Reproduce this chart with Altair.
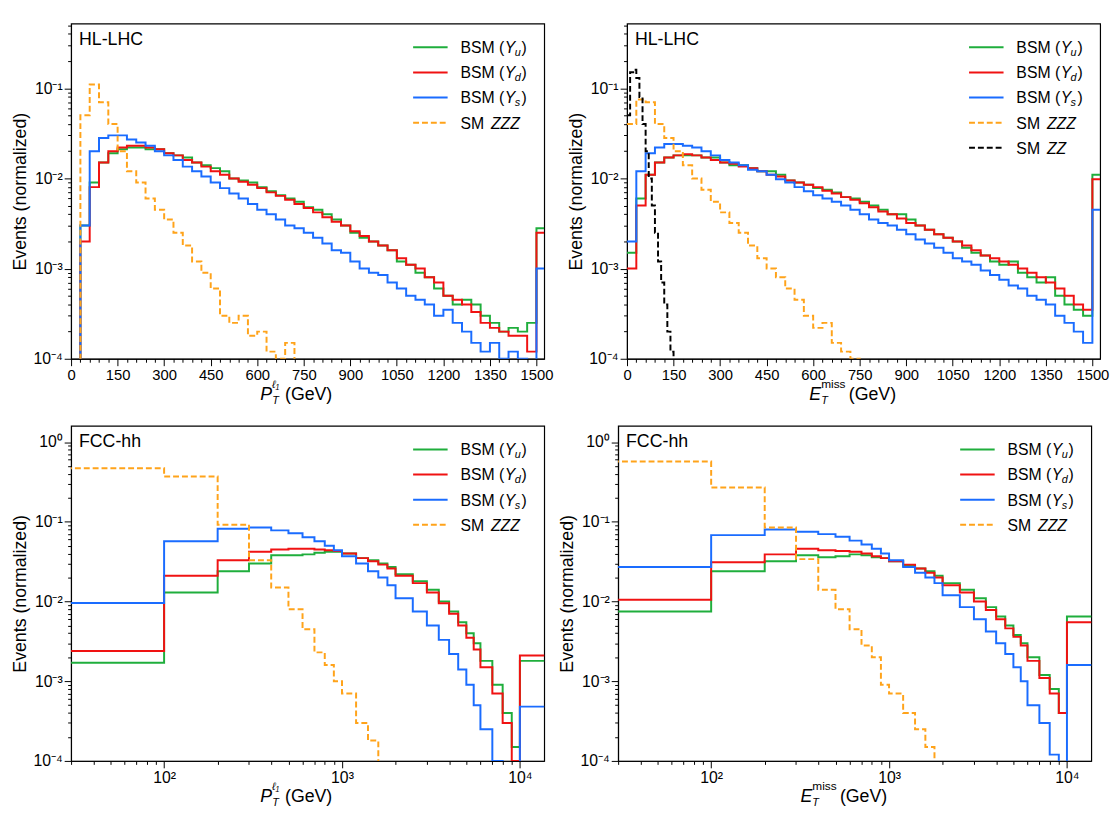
import altair as alt
import numpy as np
import pandas as pd

FONT = "Liberation Sans"
W, H = 480, 340
GREEN, RED, BLUE, ORANGE, BLACK = "#1fae3c", "#f01212", "#1a6cff", "#ffa31a", "#000000"

# ---------------- HL-LHC: 30 GeV bins 0..1500, then overflow bin ----------------
hl_edges = list(range(0, 1501, 30)) + [1525]

lep_green = [5e-5, 0.003, 0.009, 0.015, 0.019, 0.021, 0.022, 0.022, 0.021, 0.021,
             0.019, 0.018, 0.017, 0.015, 0.014, 0.013, 0.012, 0.010, 0.0095, 0.009,
             0.008, 0.0072, 0.0065, 0.006, 0.0055, 0.0048, 0.0045, 0.004, 0.0035, 0.003,
             0.0025, 0.0022, 0.002, 0.0018, 0.0016, 0.0012, 0.0011, 0.0009, 0.0008, 0.0006,
             0.0005, 0.0004, 0.00045, 0.0004, 0.0003, 0.00025, 0.0002, 0.00022, 0.0002, 0.00025,
             0.0028]
lep_red = [5e-5, 0.002, 0.008, 0.015, 0.020, 0.022, 0.023, 0.023, 0.022, 0.021,
           0.019, 0.018, 0.016, 0.015, 0.0135, 0.012, 0.011, 0.010, 0.0092, 0.0085,
           0.0078, 0.007, 0.0064, 0.0058, 0.0052, 0.0047, 0.0042, 0.0037, 0.0033, 0.003,
           0.0026, 0.0023, 0.002, 0.0018, 0.0016, 0.0013, 0.0011, 0.001, 0.0008, 0.0007,
           0.0005, 0.00045, 0.0004, 0.00033, 0.00025, 0.00022, 0.0002, 0.00018, 0.00018, 0.00012,
           0.0025]
lep_blue = [5e-5, 0.003, 0.020, 0.028, 0.030, 0.030, 0.027, 0.025, 0.023, 0.020,
            0.018, 0.016, 0.0135, 0.012, 0.0105, 0.009, 0.0078, 0.0068, 0.006, 0.0052,
            0.0045, 0.004, 0.0035, 0.003, 0.0028, 0.0025, 0.0022, 0.0019, 0.0016, 0.0015,
            0.0012, 0.001, 0.0009, 0.00085, 0.0007, 0.0006, 0.0005, 0.00045, 0.0004, 0.0003,
            0.00035, 0.00025, 0.0002, 0.00015, 0.00012, 0.00015, 0.0001, 0.00012, 0.0001, 5e-5,
            0.001]
lep_zzz = [5e-5, 0.05, 0.11, 0.07, 0.04, 0.02, 0.012, 0.009, 0.006, 0.0045,
           0.0035, 0.0025, 0.0018, 0.0012, 0.0009, 0.0006, 0.0003, 0.00025, 0.0003, 0.00018,
           0.0002, 0.00012, 0.0001, 0.00015, 5e-5]

met_green = [0.0015, 0.006, 0.011, 0.015, 0.017, 0.018, 0.018, 0.018, 0.017, 0.017,
             0.015, 0.014, 0.014, 0.013, 0.012, 0.012, 0.011, 0.0095, 0.009, 0.0085,
             0.0078, 0.0075, 0.007, 0.0062, 0.006, 0.0055, 0.005, 0.0045, 0.004, 0.004,
             0.0035, 0.003, 0.0027, 0.0024, 0.0022, 0.002, 0.0017, 0.0015, 0.0014, 0.0012,
             0.0011, 0.0012, 0.0009, 0.0008, 0.0007, 0.0008, 0.0005, 0.0004, 0.00035, 0.0003,
             0.011]
met_red = [0.001, 0.005, 0.011, 0.015, 0.017, 0.018, 0.0185, 0.018, 0.017, 0.016,
           0.015, 0.0145, 0.0135, 0.013, 0.012, 0.011, 0.0105, 0.0095, 0.009, 0.0085,
           0.008, 0.0073, 0.0068, 0.0062, 0.0058, 0.0053, 0.0048, 0.0043, 0.004, 0.0036,
           0.0032, 0.003, 0.0027, 0.0024, 0.0022, 0.002, 0.0018, 0.0016, 0.0014, 0.0013,
           0.0012, 0.0011, 0.001, 0.0009, 0.0008, 0.0007, 0.0006, 0.0005, 0.0004, 0.00035,
           0.0098]
met_blue = [0.002, 0.012, 0.019, 0.022, 0.024, 0.024, 0.023, 0.022, 0.020, 0.018,
            0.016, 0.015, 0.014, 0.0125, 0.012, 0.011, 0.0098, 0.009, 0.008, 0.0072,
            0.0065, 0.006, 0.0055, 0.005, 0.0045, 0.004, 0.0035, 0.0032, 0.003, 0.0027,
            0.0024, 0.0021, 0.0019, 0.0017, 0.0015, 0.0013, 0.0012, 0.0011, 0.00095, 0.00085,
            0.00075, 0.00065, 0.0006, 0.0005, 0.00045, 0.0004, 0.0003, 0.00025, 0.0002, 0.00015,
            0.0045]
met_zzz = [0.04, 0.075, 0.07, 0.04, 0.028, 0.02, 0.014, 0.01, 0.0075, 0.0055,
           0.0042, 0.0032, 0.0025, 0.0018, 0.0013, 0.001, 0.0008, 0.0006, 0.00045, 0.0003,
           0.00022, 0.00025, 0.00015, 0.00012, 0.0001, 5e-5]
zz_edges = list(range(0, 161, 10))
met_zz = [0.05, 0.15, 0.16, 0.13, 0.08, 0.04, 0.02, 0.01, 0.005, 0.0025,
          0.0012, 0.0007, 0.0004, 0.0002, 0.00012, 5e-5]

# ---------------- FCC-hh: variable bins, then overflow ----------------
fcc_edges = ([10] + list(range(100, 1001, 100)) + list(range(1200, 2001, 200))
             + list(range(2500, 6001, 500)) + [7000, 8000, 9000, 10000, 20000])

fpt_green = [0.0017, 0.013, 0.024, 0.030, 0.038, 0.038, 0.039, 0.041, 0.042, 0.042,
             0.040, 0.035, 0.033, 0.030, 0.027,
             0.022, 0.018, 0.014, 0.010, 0.0075, 0.0055, 0.004, 0.003,
             0.0018, 0.0009, 0.0004, 0.00015, 0.0018]
fpt_red = [0.0024, 0.021, 0.033, 0.042, 0.045, 0.046, 0.046, 0.045, 0.044, 0.043,
           0.040, 0.035, 0.032, 0.029, 0.026,
           0.021, 0.017, 0.013, 0.0095, 0.007, 0.005, 0.0035, 0.0025,
           0.0015, 0.0007, 0.0003, 0.0001, 0.0021]
fpt_blue = [0.0096, 0.057, 0.082, 0.085, 0.078, 0.072, 0.064, 0.057, 0.050, 0.044,
            0.037, 0.030, 0.024, 0.020, 0.016,
            0.011, 0.0075, 0.005, 0.0033, 0.0022, 0.0014, 0.0009, 0.0005,
            0.00025, 0.0001, 5e-5, 5e-5, 0.00048]
fpt_zzz = [0.47, 0.37, 0.092, 0.033, 0.015, 0.008, 0.0045, 0.0023, 0.0016, 0.001,
           0.0007, 0.0003, 0.00018, 5e-5]

fmet_green = [0.0075, 0.024, 0.032, 0.038, 0.036, 0.037, 0.039, 0.038, 0.036, 0.035,
              0.032, 0.028, 0.026, 0.024, 0.021,
              0.017, 0.014, 0.011, 0.0085, 0.0065, 0.005, 0.0038, 0.003,
              0.002, 0.0012, 0.0008, 0.0004, 0.0065]
fmet_red = [0.0105, 0.031, 0.039, 0.046, 0.044, 0.043, 0.042, 0.040, 0.037, 0.035,
            0.032, 0.029, 0.026, 0.023, 0.020,
            0.016, 0.013, 0.010, 0.0078, 0.006, 0.0046, 0.0036, 0.0028,
            0.0018, 0.0011, 0.0007, 0.0004, 0.0055]
fmet_blue = [0.027, 0.068, 0.080, 0.075, 0.070, 0.065, 0.058, 0.052, 0.046, 0.040,
             0.033, 0.027, 0.023, 0.020, 0.017,
             0.012, 0.0085, 0.006, 0.0042, 0.003, 0.0022, 0.0015, 0.001,
             0.0005, 0.0003, 0.00012, 8e-5, 0.0016]
fmet_zzz = [0.57, 0.27, 0.085, 0.034, 0.014, 0.008, 0.0045, 0.0028, 0.002, 0.0009,
            0.0007, 0.0004, 0.00025, 0.00015, 5e-5]


def steps(edges, vals):
    return pd.DataFrame({"x": edges[: len(vals) + 1], "y": list(vals) + [vals[-1]]})


def is_decade(v="datum.value"):
    return f"abs(log({v})/LN10 - round(log({v})/LN10)) < 1e-6"


SUP = "{'0':'⁰','1':'¹','2':'²','3':'³','4':'⁴'}"
log_label = (f"{is_decade()} ? (round(log(datum.value)/LN10) < 0 ? '10⁻' + "
             f"{SUP}[''+abs(round(log(datum.value)/LN10))] : '10' + "
             f"{SUP}[''+round(log(datum.value)/LN10)]) : ''")


def txt(x, y, s, size, italic=False, align="left"):
    return alt.Chart(pd.DataFrame({"a": [0]})).mark_text(
        x=x, y=y, text=s, fontSize=size, font=FONT, align=align,
        baseline="alphabetic", fontStyle="italic" if italic else "normal", color="black")


def legend(entries):
    layers = []
    for i, (kind, sub, color, dash) in enumerate(entries):
        y = 24 + 25.5 * i
        kw = dict(color=color, strokeWidth=2)
        if dash:
            kw["strokeDash"] = dash
        layers.append(alt.Chart(pd.DataFrame({"a": [0]})).mark_rule(**kw).encode(
            x=alt.value(W - 133), x2=alt.value(W - 98), y=alt.value(y)))
        x0 = W - 85
        if kind == "BSM":
            layers += [txt(x0, y + 6, "BSM (", 16), txt(x0 + 45, y + 6, "Y", 16, True),
                       txt(x0 + 55, y + 9, sub, 11, True), txt(x0 + 62, y + 6, ")", 16)]
        else:
            layers += [txt(x0, y + 6, "SM", 16), txt(x0 + 31, y + 6, sub, 16, True)]
    return layers


def panel(series, xscale, xaxis, ydomain, label, entries, xtitle):
    ymin = [k * 10.0 ** d for d in range(-4, 1) for k in range(1, 10)]
    yaxis = alt.Axis(values=ymin, labelExpr=log_label, grid=False, labelFontSize=16,
                     tickSize={"condition": {"test": is_decade(), "value": 7}, "value": 3.5},
                     title="Events (normalized)", titleFontSize=18, titleFont=FONT,
                     titleFontWeight="normal", titlePadding=4)
    layers = []
    for df, color, dash in series:
        enc = dict(x=alt.X("x:Q", scale=xscale, axis=xaxis),
                   y=alt.Y("y:Q", scale=alt.Scale(type="log", domain=ydomain), axis=yaxis))
        kw = dict(interpolate="step-after", clip=True, color=color, strokeWidth=2)
        if dash:
            kw["strokeDash"] = dash
        layers.append(alt.Chart(df).mark_line(**kw).encode(**enc))
    layers.append(txt(8, 22, label, 18))
    layers += legend(entries)
    layers += xtitle
    return alt.layer(*layers).properties(width=W, height=H)


def title_pt():
    c = W / 2 - 48
    return [txt(c, H + 42, "P", 18, True), txt(c + 12, H + 46, "T", 11, True),
            txt(c + 12, H + 30, "ℓ₁", 11, True), txt(c + 25, H + 42, " (GeV)", 18)]


def title_met():
    c = W / 2 - 55
    return [txt(c, H + 42, "E", 18, True), txt(c + 12, H + 46, "T", 11, True),
            txt(c + 12, H + 30, "miss", 12), txt(c + 40, H + 42, " (GeV)", 18)]


hl_scale = alt.Scale(domain=[0, 1525], nice=False, zero=False)
hl_axis = alt.Axis(values=list(range(0, 1501, 30)), grid=False, title=None, labelFontSize=15,
                   labelExpr="datum.value % 150 == 0 ? format(datum.value, 'd') : ''",
                   tickSize={"condition": {"test": "datum.value % 150 == 0", "value": 7}, "value": 3.5})
fcc_scale = alt.Scale(type="log", domain=[30, 13700], nice=False)
xmin = [k * 10.0 ** d for d in range(1, 5) for k in range(1, 10) if 30 <= k * 10.0 ** d <= 13700]
fcc_axis = alt.Axis(values=xmin, grid=False, title=None, labelExpr=log_label, labelFontSize=16,
                    tickSize={"condition": {"test": is_decade(), "value": 7}, "value": 3.5})

bsm = [("BSM", "u", GREEN, None), ("BSM", "d", RED, None), ("BSM", "s", BLUE, None),
       ("SM", "ZZZ", ORANGE, [6, 3])]

p1 = panel([(steps(hl_edges, lep_green), GREEN, None), (steps(hl_edges, lep_red), RED, None),
            (steps(hl_edges, lep_blue), BLUE, None), (steps(hl_edges, lep_zzz), ORANGE, [6, 3])],
           hl_scale, hl_axis, [1e-4, 0.52], "HL-LHC", bsm, title_pt())
p2 = panel([(steps(hl_edges, met_green), GREEN, None), (steps(hl_edges, met_red), RED, None),
            (steps(hl_edges, met_blue), BLUE, None), (steps(hl_edges, met_zzz), ORANGE, [6, 3]),
            (steps(zz_edges, met_zz), BLACK, [6, 3])],
           hl_scale, hl_axis, [1e-4, 0.52], "HL-LHC", bsm + [("SM", "ZZ", BLACK, [6, 3])], title_met())
p3 = panel([(steps(fcc_edges, fpt_green), GREEN, None), (steps(fcc_edges, fpt_red), RED, None),
            (steps(fcc_edges, fpt_blue), BLUE, None), (steps(fcc_edges, fpt_zzz), ORANGE, [6, 3])],
           fcc_scale, fcc_axis, [1e-4, 1.6], "FCC-hh", bsm, title_pt())
p4 = panel([(steps(fcc_edges, fmet_green), GREEN, None), (steps(fcc_edges, fmet_red), RED, None),
            (steps(fcc_edges, fmet_blue), BLUE, None), (steps(fcc_edges, fmet_zzz), ORANGE, [6, 3])],
           fcc_scale, fcc_axis, [1e-4, 1.6], "FCC-hh", bsm, title_met())

chart = alt.vconcat(
    alt.hconcat(p1, p2, spacing=12),
    alt.hconcat(p3, p4, spacing=12),
    spacing=18,
).configure_view(stroke="black", strokeWidth=1.2).configure_axis(
    labelFont=FONT, labelFontSize=15, labelColor="black", domainColor="black",
    tickColor="black", labelFlush=False, labelOverlap=False
).properties(padding={"left": 2, "top": 2, "right": 0, "bottom": 0})

chart.save("out.html", embed_options={"renderer": "svg", "actions": False})
